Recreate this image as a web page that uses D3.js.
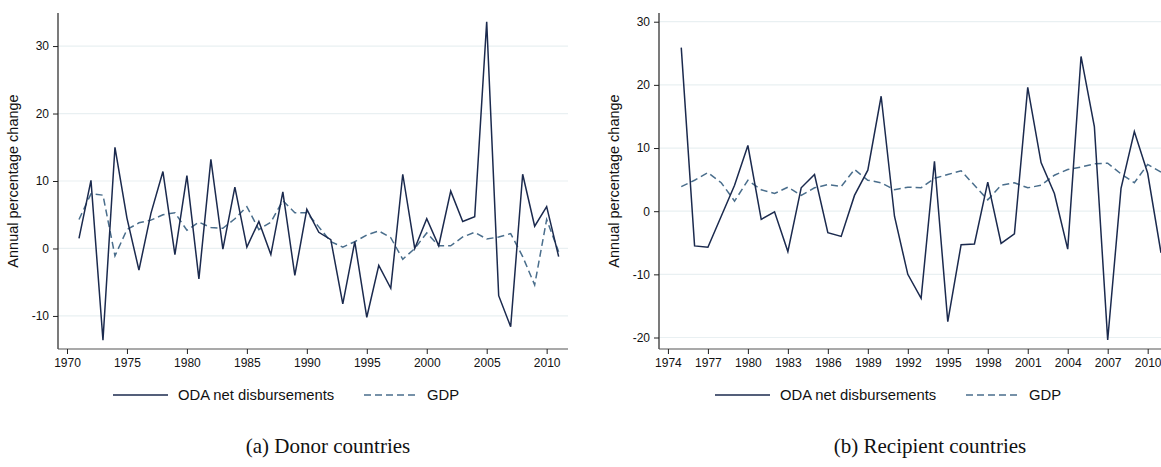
<html>
<head>
<meta charset="utf-8">
<script src="https://d3js.org/d3.v7.min.js"></script>
<style>
  body { margin: 0; background: #fff; }
  svg text { font-family: "Liberation Sans", Arial, sans-serif; fill: #111; }
</style>
</head>
<body>
<svg id="chart" width="1161" height="467"></svg>
<script>
// donor countries, 1971-2011
const donorYears = d3.range(1971, 2012);
const donorOda = [1.5, 10.1, -13.6, 15.0, 4.5, -3.2, 5.2, 11.4, -0.9, 10.8, -4.5, 13.2, -0.1, 9.1, 0.2,
  4.0, -0.9, 8.4, -4.0, 5.8, 2.4, 1.3, -8.2, 1.0, -10.2, -2.5, -5.9, 11.0, 0.0, 4.4,
  0.4, 8.5, 4.0, 4.7, 33.6, -7.0, -11.6, 11.0, 3.3, 6.2, -1.2];
const donorGdp = [4.3, 8.1, 7.9, -1.1, 2.8, 3.8, 4.2, 5.0, 5.3, 2.7, 3.9, 3.1, 3.0, 4.4, 6.2,
  2.8, 3.9, 7.1, 5.3, 5.3, 3.2, 1.0, 0.2, 1.0, 2.0, 2.6, 1.6, -1.6, 0.0, 2.3,
  0.4, 0.4, 1.7, 2.4, 1.4, 1.7, 2.2, -1.2, -5.4, 4.3, -0.5];

// recipient countries, 1975-2011
const recipYears = d3.range(1975, 2012);
const recipOda = [25.9, -5.5, -5.7, -0.8, 4.1, 10.4, -1.3, -0.1, -6.4, 3.7, 5.8, -3.4, -4.0, 2.5, 6.5,
  18.2, -0.8, -10.0, -13.8, 7.9, -17.5, -5.3, -5.2, 4.6, -5.1, -3.6, 19.6, 7.7, 2.8,
  -6.0, 24.5, 13.4, -20.4, 3.6, 12.6, 6.0, -6.6];
const recipGdp = [3.9, 4.9, 6.1, 4.5, 1.6, 4.9, 3.4, 2.8, 3.8, 2.5, 3.7, 4.2, 3.9, 6.6, 4.9,
  4.5, 3.4, 3.8, 3.7, 5.2, 5.8, 6.4, 4.1, 1.8, 4.1, 4.5, 3.7, 4.1, 5.7, 6.6, 7.0,
  7.5, 7.6, 5.9, 4.5, 7.4, 6.2];

const donorTicksY = [-10, 0, 10, 20, 30];
const donorTicksX = [1970, 1975, 1980, 1985, 1990, 1995, 2000, 2005, 2010];
const recipTicksY = [-20, -10, 0, 10, 20, 30];
const recipTicksX = d3.range(1974, 2011, 3);

const seriesNames = ['ODA net disbursements', 'GDP'];
const captions = ['(a) Donor countries', '(b) Recipient countries'];

const odaColor = '#1b2a4e';
const gdpColor = '#4a6e8c';
const gridColor = '#e9f0f2';

const svg = d3.select('#chart');

function drawPanel(p) {
  const x = d3.scaleLinear().domain(p.xDomain).range([p.left, p.right]);
  const y = d3.scaleLinear().domain(p.yDomain).range([p.bottom, p.top]);
  const g = svg.append('g');

  // gridlines
  g.selectAll('line.grid')
    .data(p.ticksY)
    .enter().append('line')
    .attr('x1', p.left).attr('x2', p.right)
    .attr('y1', d => y(d)).attr('y2', d => y(d))
    .attr('stroke', gridColor).attr('stroke-width', 1.2);

  const yAxis = g.append('g')
    .attr('transform', `translate(${p.left},0)`)
    .call(d3.axisLeft(y).tickValues(p.ticksY).tickSize(5).tickPadding(4).tickFormat(d => String(d)));
  yAxis.select('.domain').attr('stroke', '#222').attr('stroke-width', 1.2)
    .attr('d', `M0,${p.bottom}V${p.top}`);
  yAxis.selectAll('.tick line').attr('stroke', '#222');
  yAxis.selectAll('text').style('font-size', '12px').attr('fill', '#111');

  const xAxis = g.append('g')
    .attr('transform', `translate(0,${p.bottom})`)
    .call(d3.axisBottom(x).tickValues(p.ticksX).tickSize(5).tickPadding(4).tickFormat(d => String(d)));
  xAxis.select('.domain').attr('stroke', '#555').attr('stroke-width', 1.2)
    .attr('d', `M${p.left},0H${p.right}`);
  xAxis.selectAll('.tick line').attr('stroke', '#222');
  xAxis.selectAll('text').style('font-size', '12px').attr('fill', '#111');

  g.append('text')
    .attr('transform', `translate(${p.left - 40},${(p.top + p.bottom) / 2}) rotate(-90)`)
    .attr('text-anchor', 'middle')
    .style('font-size', '14.5px')
    .text('Annual percentage change');

  const line = d3.line().x(d => x(d[0])).y(d => y(d[1]));

  g.append('path')
    .datum(p.years.map((yr, i) => [yr, p.gdp[i]]))
    .attr('d', line)
    .attr('fill', 'none')
    .attr('stroke', gdpColor)
    .attr('stroke-width', 1.5)
    .attr('stroke-dasharray', '7,4');

  g.append('path')
    .datum(p.years.map((yr, i) => [yr, p.oda[i]]))
    .attr('d', line)
    .attr('fill', 'none')
    .attr('stroke', odaColor)
    .attr('stroke-width', 1.5);

  // legend
  const lg = g.append('g').attr('transform', `translate(${p.legendX},395)`);
  lg.append('line').attr('x1', 0).attr('x2', 55).attr('y1', 0).attr('y2', 0)
    .attr('stroke', odaColor).attr('stroke-width', 1.5);
  lg.append('text').attr('x', 65).attr('y', 0).attr('dy', '0.35em')
    .style('font-size', '14.8px').text(seriesNames[0]);
  lg.append('line').attr('x1', 251).attr('x2', 305).attr('y1', 0).attr('y2', 0)
    .attr('stroke', gdpColor).attr('stroke-width', 1.5).attr('stroke-dasharray', '7,4');
  lg.append('text').attr('x', 314).attr('y', 0).attr('dy', '0.35em')
    .style('font-size', '14.8px').text(seriesNames[1]);

  g.append('text')
    .attr('x', p.captionX).attr('y', 453)
    .attr('text-anchor', 'middle')
    .style('font-family', '"Liberation Serif", "DejaVu Serif", serif')
    .style('font-size', '21px')
    .text(p.caption);
}

drawPanel({
  years: donorYears, oda: donorOda, gdp: donorGdp,
  ticksX: donorTicksX, ticksY: donorTicksY,
  xDomain: [1969.25, 2011.78], yDomain: [-14.9, 34.9],
  left: 58, right: 568, top: 13, bottom: 349,
  legendX: 113, captionX: 328, caption: captions[0]
});

drawPanel({
  years: recipYears, oda: recipOda, gdp: recipGdp,
  ticksX: recipTicksX, ticksY: recipTicksY,
  xDomain: [1973.33, 2011], yDomain: [-21.82, 31.38],
  left: 659, right: 1161, top: 13, bottom: 349,
  legendX: 715, captionX: 930, caption: captions[1]
});
</script>
</body>
</html>
